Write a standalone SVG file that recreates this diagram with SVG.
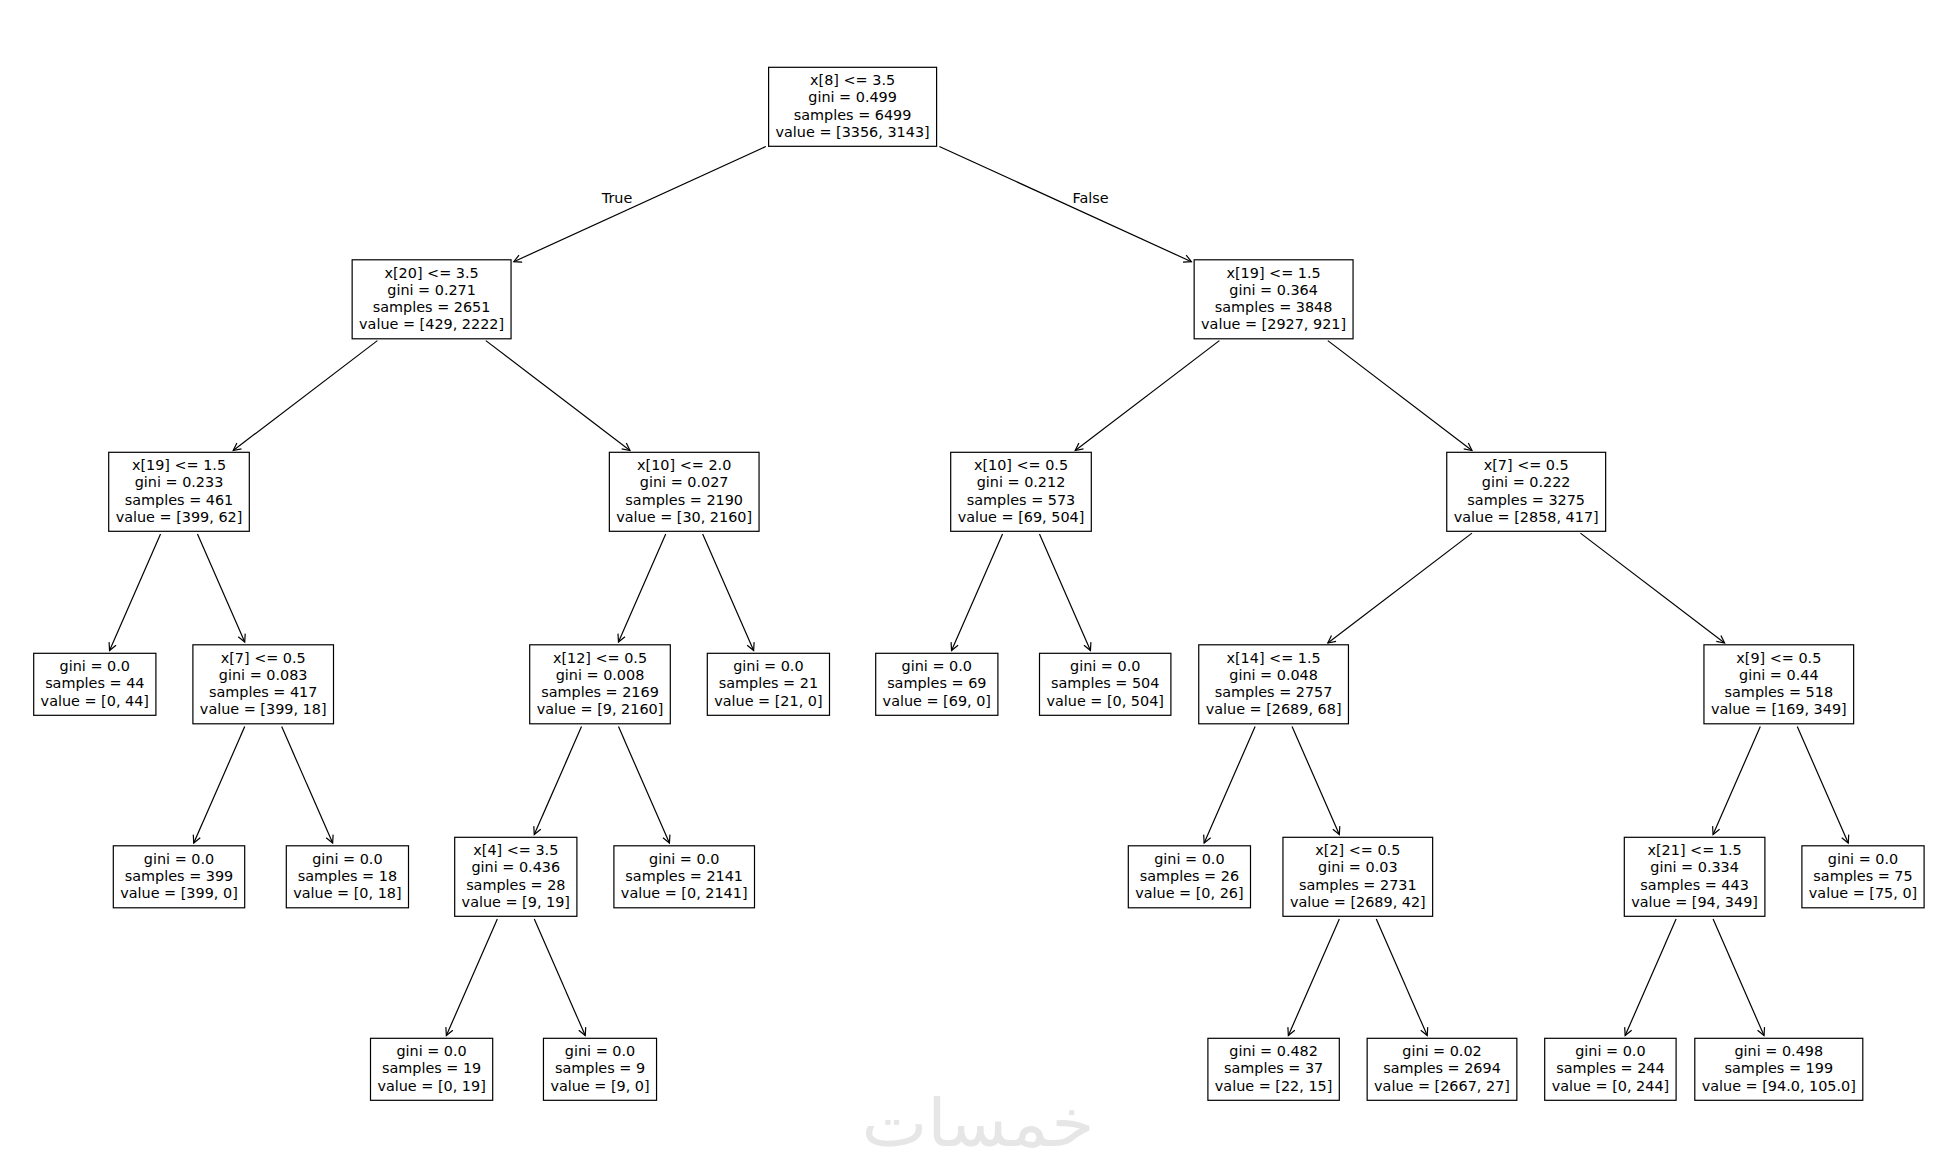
<svg xmlns="http://www.w3.org/2000/svg" width="1957" height="1175" viewBox="0 0 1957 1175">
<style>
.box{fill:#fff;stroke:#000;stroke-width:1.2}
text{font-family:"DejaVu Sans",sans-serif;font-size:14.4px;text-anchor:middle;fill:#000}
.edge line{stroke:#000;stroke-width:1.2;fill:none;marker-end:url(#arr)}
.wm{font-family:"DejaVu Sans",sans-serif;font-size:66px;font-weight:normal;fill:#e6e6e6}
</style>
<defs>
<marker id="arr" viewBox="-10 -6 12 12" refX="0" refY="0" markerWidth="12" markerHeight="12" markerUnits="userSpaceOnUse" orient="auto">
<path d="M-7.5,-3.8 L0,0 L-7.5,3.8" fill="none" stroke="#000" stroke-width="1.2"/>
</marker>
</defs>
<rect width="1957" height="1175" fill="#fff"/>
<text class="wm" x="978" y="1146" textLength="233" lengthAdjust="spacingAndGlyphs">خمسات</text>
<g id="connectors" class="edge">
<line x1="765.87" y1="146.46" x2="513.78" y2="261.72"/>
<line x1="939.33" y1="146.46" x2="1191.42" y2="261.72"/>
<line x1="377.38" y1="340.62" x2="233.22" y2="450.48"/>
<line x1="485.82" y1="340.62" x2="629.98" y2="450.48"/>
<line x1="1219.38" y1="340.62" x2="1075.22" y2="450.48"/>
<line x1="1327.82" y1="340.62" x2="1471.98" y2="450.48"/>
<line x1="160.52" y1="534.05" x2="109.56" y2="650.55"/>
<line x1="197.48" y1="534.05" x2="244.72" y2="642.05"/>
<line x1="665.72" y1="534.05" x2="618.48" y2="642.05"/>
<line x1="702.68" y1="534.05" x2="753.64" y2="650.55"/>
<line x1="1002.52" y1="534.05" x2="951.56" y2="650.55"/>
<line x1="1039.48" y1="534.05" x2="1090.44" y2="650.55"/>
<line x1="1471.98" y1="533.12" x2="1327.82" y2="642.98"/>
<line x1="1580.42" y1="533.12" x2="1724.58" y2="642.98"/>
<line x1="244.72" y1="726.55" x2="193.76" y2="843.05"/>
<line x1="281.68" y1="726.55" x2="332.64" y2="843.05"/>
<line x1="581.52" y1="726.55" x2="534.28" y2="834.55"/>
<line x1="618.48" y1="726.55" x2="669.44" y2="843.05"/>
<line x1="1255.12" y1="726.55" x2="1204.16" y2="843.05"/>
<line x1="1292.08" y1="726.55" x2="1339.32" y2="834.55"/>
<line x1="1760.32" y1="726.55" x2="1713.08" y2="834.55"/>
<line x1="1797.28" y1="726.55" x2="1848.24" y2="843.05"/>
<line x1="497.32" y1="919.05" x2="446.36" y2="1035.55"/>
<line x1="534.28" y1="919.05" x2="585.24" y2="1035.55"/>
<line x1="1339.32" y1="919.05" x2="1288.36" y2="1035.55"/>
<line x1="1376.28" y1="919.05" x2="1427.24" y2="1035.55"/>
<line x1="1676.12" y1="919.05" x2="1625.16" y2="1035.55"/>
<line x1="1713.08" y1="919.05" x2="1764.04" y2="1035.55"/>
<text x="617" y="202.7">True</text>
<text x="1090.5" y="203.3">False</text>
</g>
<g id="n0"><rect class="box" x="768.6" y="67.3" width="168" height="79"/><text><tspan x="852.6" y="85">x[8] &lt;= 3.5</tspan><tspan x="852.6" y="102.3">gini = 0.499</tspan><tspan x="852.6" y="119.6">samples = 6499</tspan><tspan x="852.6" y="136.9">value = [3356, 3143]</tspan></text></g>
<g id="n1"><rect class="box" x="352.15" y="259.8" width="158.9" height="79"/><text><tspan x="431.6" y="277.5">x[20] &lt;= 3.5</tspan><tspan x="431.6" y="294.8">gini = 0.271</tspan><tspan x="431.6" y="312.1">samples = 2651</tspan><tspan x="431.6" y="329.4">value = [429, 2222]</tspan></text></g>
<g id="n2"><rect class="box" x="1194.15" y="259.8" width="158.9" height="79"/><text><tspan x="1273.6" y="277.5">x[19] &lt;= 1.5</tspan><tspan x="1273.6" y="294.8">gini = 0.364</tspan><tspan x="1273.6" y="312.1">samples = 3848</tspan><tspan x="1273.6" y="329.4">value = [2927, 921]</tspan></text></g>
<g id="n3"><rect class="box" x="108.7" y="452.3" width="140.6" height="79"/><text><tspan x="179" y="470">x[19] &lt;= 1.5</tspan><tspan x="179" y="487.3">gini = 0.233</tspan><tspan x="179" y="504.6">samples = 461</tspan><tspan x="179" y="521.9">value = [399, 62]</tspan></text></g>
<g id="n4"><rect class="box" x="609.35" y="452.3" width="149.7" height="79"/><text><tspan x="684.2" y="470">x[10] &lt;= 2.0</tspan><tspan x="684.2" y="487.3">gini = 0.027</tspan><tspan x="684.2" y="504.6">samples = 2190</tspan><tspan x="684.2" y="521.9">value = [30, 2160]</tspan></text></g>
<g id="n5"><rect class="box" x="950.7" y="452.3" width="140.6" height="79"/><text><tspan x="1021" y="470">x[10] &lt;= 0.5</tspan><tspan x="1021" y="487.3">gini = 0.212</tspan><tspan x="1021" y="504.6">samples = 573</tspan><tspan x="1021" y="521.9">value = [69, 504]</tspan></text></g>
<g id="n6"><rect class="box" x="1446.75" y="452.3" width="158.9" height="79"/><text><tspan x="1526.2" y="470">x[7] &lt;= 0.5</tspan><tspan x="1526.2" y="487.3">gini = 0.222</tspan><tspan x="1526.2" y="504.6">samples = 3275</tspan><tspan x="1526.2" y="521.9">value = [2858, 417]</tspan></text></g>
<g id="leaf44"><rect class="box" x="33.7" y="653.3" width="122.2" height="62"/><text><tspan x="94.8" y="671.15">gini = 0.0</tspan><tspan x="94.8" y="688.45">samples = 44</tspan><tspan x="94.8" y="705.75">value = [0, 44]</tspan></text></g>
<g id="n7"><rect class="box" x="192.9" y="644.8" width="140.6" height="79"/><text><tspan x="263.2" y="662.5">x[7] &lt;= 0.5</tspan><tspan x="263.2" y="679.8">gini = 0.083</tspan><tspan x="263.2" y="697.1">samples = 417</tspan><tspan x="263.2" y="714.4">value = [399, 18]</tspan></text></g>
<g id="n8"><rect class="box" x="529.7" y="644.8" width="140.6" height="79"/><text><tspan x="600" y="662.5">x[12] &lt;= 0.5</tspan><tspan x="600" y="679.8">gini = 0.008</tspan><tspan x="600" y="697.1">samples = 2169</tspan><tspan x="600" y="714.4">value = [9, 2160]</tspan></text></g>
<g id="leaf21"><rect class="box" x="707.3" y="653.3" width="122.2" height="62"/><text><tspan x="768.4" y="671.15">gini = 0.0</tspan><tspan x="768.4" y="688.45">samples = 21</tspan><tspan x="768.4" y="705.75">value = [21, 0]</tspan></text></g>
<g id="leaf69"><rect class="box" x="875.7" y="653.3" width="122.2" height="62"/><text><tspan x="936.8" y="671.15">gini = 0.0</tspan><tspan x="936.8" y="688.45">samples = 69</tspan><tspan x="936.8" y="705.75">value = [69, 0]</tspan></text></g>
<g id="leaf504"><rect class="box" x="1039.5" y="653.3" width="131.4" height="62"/><text><tspan x="1105.2" y="671.15">gini = 0.0</tspan><tspan x="1105.2" y="688.45">samples = 504</tspan><tspan x="1105.2" y="705.75">value = [0, 504]</tspan></text></g>
<g id="n9"><rect class="box" x="1198.75" y="644.8" width="149.7" height="79"/><text><tspan x="1273.6" y="662.5">x[14] &lt;= 1.5</tspan><tspan x="1273.6" y="679.8">gini = 0.048</tspan><tspan x="1273.6" y="697.1">samples = 2757</tspan><tspan x="1273.6" y="714.4">value = [2689, 68]</tspan></text></g>
<g id="n10"><rect class="box" x="1703.95" y="644.8" width="149.7" height="79"/><text><tspan x="1778.8" y="662.5">x[9] &lt;= 0.5</tspan><tspan x="1778.8" y="679.8">gini = 0.44</tspan><tspan x="1778.8" y="697.1">samples = 518</tspan><tspan x="1778.8" y="714.4">value = [169, 349]</tspan></text></g>
<g id="leaf399"><rect class="box" x="113.3" y="845.8" width="131.4" height="62"/><text><tspan x="179" y="863.65">gini = 0.0</tspan><tspan x="179" y="880.95">samples = 399</tspan><tspan x="179" y="898.25">value = [399, 0]</tspan></text></g>
<g id="leaf18"><rect class="box" x="286.3" y="845.8" width="122.2" height="62"/><text><tspan x="347.4" y="863.65">gini = 0.0</tspan><tspan x="347.4" y="880.95">samples = 18</tspan><tspan x="347.4" y="898.25">value = [0, 18]</tspan></text></g>
<g id="n11"><rect class="box" x="454.7" y="837.3" width="122.2" height="79"/><text><tspan x="515.8" y="855">x[4] &lt;= 3.5</tspan><tspan x="515.8" y="872.3">gini = 0.436</tspan><tspan x="515.8" y="889.6">samples = 28</tspan><tspan x="515.8" y="906.9">value = [9, 19]</tspan></text></g>
<g id="leaf2141"><rect class="box" x="613.9" y="845.8" width="140.6" height="62"/><text><tspan x="684.2" y="863.65">gini = 0.0</tspan><tspan x="684.2" y="880.95">samples = 2141</tspan><tspan x="684.2" y="898.25">value = [0, 2141]</tspan></text></g>
<g id="leaf26"><rect class="box" x="1128.3" y="845.8" width="122.2" height="62"/><text><tspan x="1189.4" y="863.65">gini = 0.0</tspan><tspan x="1189.4" y="880.95">samples = 26</tspan><tspan x="1189.4" y="898.25">value = [0, 26]</tspan></text></g>
<g id="n12"><rect class="box" x="1282.95" y="837.3" width="149.7" height="79"/><text><tspan x="1357.8" y="855">x[2] &lt;= 0.5</tspan><tspan x="1357.8" y="872.3">gini = 0.03</tspan><tspan x="1357.8" y="889.6">samples = 2731</tspan><tspan x="1357.8" y="906.9">value = [2689, 42]</tspan></text></g>
<g id="n13"><rect class="box" x="1624.3" y="837.3" width="140.6" height="79"/><text><tspan x="1694.6" y="855">x[21] &lt;= 1.5</tspan><tspan x="1694.6" y="872.3">gini = 0.334</tspan><tspan x="1694.6" y="889.6">samples = 443</tspan><tspan x="1694.6" y="906.9">value = [94, 349]</tspan></text></g>
<g id="leaf75"><rect class="box" x="1801.9" y="845.8" width="122.2" height="62"/><text><tspan x="1863" y="863.65">gini = 0.0</tspan><tspan x="1863" y="880.95">samples = 75</tspan><tspan x="1863" y="898.25">value = [75, 0]</tspan></text></g>
<g id="leaf19"><rect class="box" x="370.5" y="1038.3" width="122.2" height="62"/><text><tspan x="431.6" y="1056.15">gini = 0.0</tspan><tspan x="431.6" y="1073.45">samples = 19</tspan><tspan x="431.6" y="1090.75">value = [0, 19]</tspan></text></g>
<g id="leaf9"><rect class="box" x="543.45" y="1038.3" width="113.1" height="62"/><text><tspan x="600" y="1056.15">gini = 0.0</tspan><tspan x="600" y="1073.45">samples = 9</tspan><tspan x="600" y="1090.75">value = [9, 0]</tspan></text></g>
<g id="leaf37"><rect class="box" x="1207.9" y="1038.3" width="131.4" height="62"/><text><tspan x="1273.6" y="1056.15">gini = 0.482</tspan><tspan x="1273.6" y="1073.45">samples = 37</tspan><tspan x="1273.6" y="1090.75">value = [22, 15]</tspan></text></g>
<g id="leaf2694"><rect class="box" x="1367.15" y="1038.3" width="149.7" height="62"/><text><tspan x="1442" y="1056.15">gini = 0.02</tspan><tspan x="1442" y="1073.45">samples = 2694</tspan><tspan x="1442" y="1090.75">value = [2667, 27]</tspan></text></g>
<g id="leaf244"><rect class="box" x="1544.7" y="1038.3" width="131.4" height="62"/><text><tspan x="1610.4" y="1056.15">gini = 0.0</tspan><tspan x="1610.4" y="1073.45">samples = 244</tspan><tspan x="1610.4" y="1090.75">value = [0, 244]</tspan></text></g>
<g id="leaf199"><rect class="box" x="1694.8" y="1038.3" width="168" height="62"/><text><tspan x="1778.8" y="1056.15">gini = 0.498</tspan><tspan x="1778.8" y="1073.45">samples = 199</tspan><tspan x="1778.8" y="1090.75">value = [94.0, 105.0]</tspan></text></g>
</svg>
